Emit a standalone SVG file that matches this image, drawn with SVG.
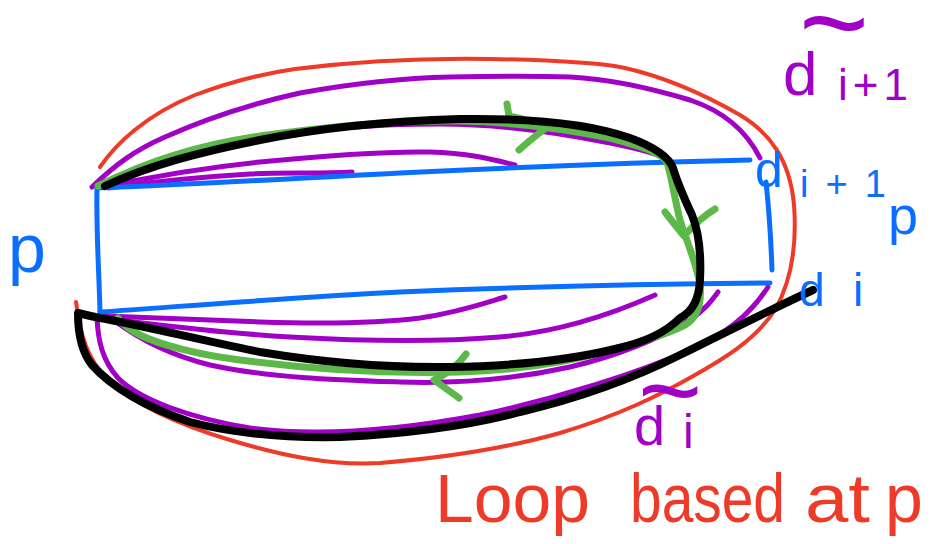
<svg xmlns="http://www.w3.org/2000/svg" width="935" height="544" viewBox="0 0 935 544">
<style>
.s{fill:none;stroke-linecap:round;stroke-linejoin:round}
.red{stroke:#EE3A28;stroke-width:4}
.pur{stroke:#A100C6;stroke-width:5}
.blu{stroke:#0A6EFF;stroke-width:5}
.grn{stroke:#5CB848;stroke-width:7}
.blk{stroke:#000;stroke-width:8}
.t{font-family:"Liberation Sans",Arial,sans-serif}
.tb{fill:#0A6EFF}.tp{fill:#A100C6}.tr{fill:#EE3A28}
</style>
<rect width="935" height="544" fill="#fff"/>
<g id="connectors">
<g id="red-loop">
<path class="s red" d="M100,167 C115,145 145,115 195,95 C230,82 260,74 295,69 C360,61 430,58 490,59 C550,60 600,63 625,68 C660,76 700,92 740,115 C770,133 790,160 794,205 C797,245 792,280 775,310 C755,340 725,358 695,375 C660,395 620,415 560,433 C500,450 440,458 380,463 C330,466 280,455 230,440 C180,425 135,405 108,380 C88,360 80,335 76,302"/>
</g>
<g id="purple-paths">
<path class="s pur" d="M92,187 C115,165 135,150 165,137 C210,117 250,104 300,93 C350,84 400,78 450,77 C500,76 540,76 570,77 C610,79 650,88 690,100 C720,110 745,128 760,158"/>
<path class="s pur" d="M100,186 C150,163 200,148 260,138 C320,128 380,124 440,124 C500,124 560,133 610,143 C640,149 660,154 668,160"/>
<path class="s pur" d="M103,187 C150,177 200,168 260,162 C320,156 380,151 430,152 C470,153 495,160 515,165"/>
<path class="s pur" d="M108,188 C150,182 200,177 250,174 C280,172 320,174 352,172"/>
<path class="s pur" d="M105,316 C150,318 200,320 260,322 C320,324 380,323 420,318 C460,312 485,303 505,297"/>
<path class="s pur" d="M110,319 C160,325 220,333 290,337 C360,341 440,342 500,337 C560,332 610,315 655,295"/>
<path class="s pur" d="M115,321 C140,340 170,355 210,365 C270,378 340,380 400,382 C460,384 520,378 570,367 C620,355 660,338 690,320 C705,310 712,300 718,292"/>
<path class="s pur" d="M768,287 C750,315 725,335 690,350 C640,372 560,398 480,415 C400,430 320,437 250,428 C190,418 140,400 118,378 C102,360 98,340 97,318"/>
</g>
<g id="blue-rectangle">
<path class="s blu" d="M97,188 C96,230 99,270 100,312"/>
<path class="s blu" d="M97,188 C200,184 300,178 400,173 C500,168 620,163 750,160"/>
<path class="s blu" d="M100,312 C200,305 300,297 400,292 C520,287 650,284 770,283"/>
<path class="s blu" d="M766,182 C769,210 771,240 772,270"/>
</g>
<g id="green-loop">
<path class="s grn" d="M98,186 C150,160 200,145 260,136 C330,126 400,120 460,121 C520,122 570,130 610,138 C640,146 660,152 667,162 C672,180 675,200 680,220 C688,245 697,265 700,285 C702,305 697,318 685,325 C665,335 640,342 610,350 C570,362 520,370 460,372 C380,374 300,368 240,360 C200,355 160,345 140,335 C128,329 121,323 118,318"/>
<path class="s grn" d="M507,104 L509,116 Q530,120 546,128 Q530,140 519,150"/>
<path class="s grn" d="M665,212 Q675,225 684,236 Q700,218 715,209"/>
<path class="s grn" d="M466,354 Q455,370 434,380 Q448,390 459,398"/>
</g>
<g id="black-loop">
<path class="s blk" d="M105,186 C150,165 200,152 260,140 C320,128 390,121 460,119 C530,118 590,124 630,138 C652,146 668,155 673,168 C678,185 685,200 692,215 C700,235 701,260 700,280 C699,300 692,312 680,318 C665,333 645,342 615,349 C570,360 510,366 450,367 C380,368 320,362 260,352 C200,340 140,325 100,318 C90,316 82,314 78,313 C78,330 80,350 92,365 C110,385 140,405 190,422 C240,435 290,438 340,437 C400,434 460,428 520,412 C580,398 630,380 680,355 C730,330 770,310 813,290"/>
</g>
</g>
<g id="label-p">
<text class="t tb" x="8" y="272" font-size="68">p</text>
</g>
<g id="label-d-i-plus-1-p">
<text class="t tb"><tspan x="755" y="187" font-size="50">d</tspan><tspan x="800" y="197" font-size="38" textLength="86" lengthAdjust="spacing">i+1</tspan><tspan x="888" y="234" font-size="54">p</tspan></text>
</g>
<g id="label-d-i">
<text class="t tb" font-size="46"><tspan x="799" y="306">d</tspan><tspan x="853" y="306">i</tspan></text>
</g>
<g id="label-dtilde-i-plus-1">
<text class="t tp"><tspan x="799" y="64" font-size="120">~</tspan><tspan x="783" y="95" font-size="62">d</tspan><tspan x="838" y="100" font-size="44" textLength="70" lengthAdjust="spacing">i+1</tspan></text>
</g>
<g id="label-dtilde-i">
<text class="t tp"><tspan x="638" y="428" font-size="110">~</tspan><tspan x="634" y="445" font-size="56">d</tspan><tspan x="683" y="448" font-size="48">i</tspan></text>
</g>
<g id="label-loop">
<text class="t tr" y="522" font-size="68"><tspan x="435" textLength="155" lengthAdjust="spacingAndGlyphs">Loop</tspan> <tspan x="630" textLength="155" lengthAdjust="spacingAndGlyphs">based</tspan> <tspan x="805" textLength="65" lengthAdjust="spacingAndGlyphs">at</tspan> <tspan x="885">p</tspan></text>
</g>
</svg>
